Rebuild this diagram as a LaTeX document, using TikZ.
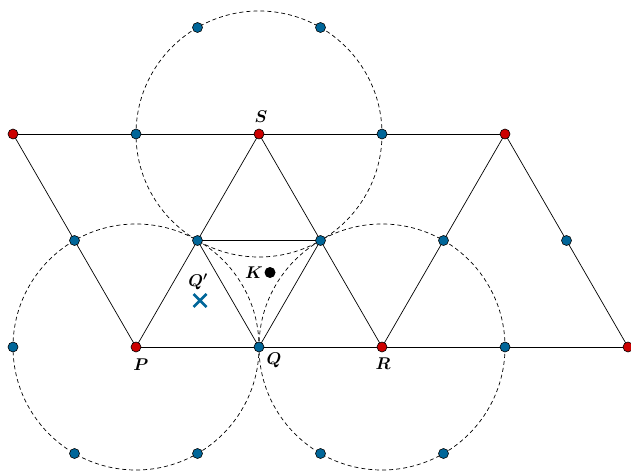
\documentclass[tikz,border=0pt]{standalone}
\usepackage{fix-cm}
\usepackage{amsmath,amssymb}
\begin{document}
\begin{tikzpicture}[x=1pt,y=-1pt,
  ln/.style={line width=0.7pt},
  circ/.style={line width=0.7pt, dash pattern=on 4pt off 3pt},
  reddot/.style={circle, fill={rgb,255:red,204;green,0;blue,0}, draw=black, line width=0.6pt, inner sep=0pt, minimum size=10pt},
  bluedot/.style={circle, fill={rgb,255:red,0;green,102;blue,153}, draw=black, line width=0.6pt, inner sep=0pt, minimum size=10pt},
  lab/.style={font=\fontsize{17}{20}\selectfont, inner sep=0pt}]
\useasboundingbox (0,0) rectangle (631,473);
% coordinates
\coordinate (A) at (13,134);
\coordinate (S) at (259,134);
\coordinate (B) at (505,134);
\coordinate (P) at (136,347);
\coordinate (R) at (382,347);
\coordinate (C) at (628,347);
\coordinate (Q) at (259,347);
\coordinate (m1) at (136,134);
\coordinate (m2) at (382,134);
\coordinate (h1) at (74.5,240.5);
\coordinate (h2) at (197.5,240.5);
\coordinate (h3) at (320.5,240.5);
\coordinate (h4) at (443.5,240.5);
\coordinate (h5) at (566.5,240.5);
\coordinate (b0) at (13,347);
\coordinate (b4) at (505,347);
\coordinate (t1) at (197.5,27.5);
\coordinate (t2) at (320.5,27.5);
\coordinate (u1) at (74.5,453.5);
\coordinate (u2) at (197.5,453.5);
\coordinate (u3) at (320.5,453.5);
\coordinate (u4) at (443.5,453.5);
% circles
\draw[circ] (S) circle[radius=123];
\draw[circ] (P) circle[radius=123];
\draw[circ] (R) circle[radius=123];
% lines
\draw[ln] (A) -- (B);
\draw[ln] (P) -- (C);
\draw[ln] (A) -- (P) -- (S) -- (R) -- (B) -- (C);
\draw[ln] (h2) -- (Q) -- (h3) -- (h2);
% dots
\foreach \p in {A,S,B,P,R,C} \node[reddot] at (\p) {};
\foreach \p in {Q,m1,m2,h1,h2,h3,h4,h5,b0,b4,t1,t2,u1,u2,u3,u4} \node[bluedot] at (\p) {};
% K
\node[circle, fill=black, inner sep=0pt, minimum size=11pt] (K) at (270,272.5) {};
\node[lab, anchor=east] (Kl) at (263,272.5) {$\boldsymbol{K}$};
% Q' cross
\coordinate (X) at (200,300.5);
\draw[line width=2.6pt, draw={rgb,255:red,0;green,102;blue,153}] ([shift={(-6.5,-6.5)}]X) -- ([shift={(6.5,6.5)}]X) ([shift={(-6.5,6.5)}]X) -- ([shift={(6.5,-6.5)}]X);
\node[lab] (Ql2) at (198,281.5) {$\boldsymbol{Q'}$};
% labels
\node[lab] (Sl) at (261,117) {$\boldsymbol{S}$};
\node[lab] (Pl) at (141,365) {$\boldsymbol{P}$};
\node[lab] (Ql) at (274,360) {$\boldsymbol{Q}$};
\node[lab] (Rl) at (383,364) {$\boldsymbol{R}$};
\end{tikzpicture}
\end{document}
